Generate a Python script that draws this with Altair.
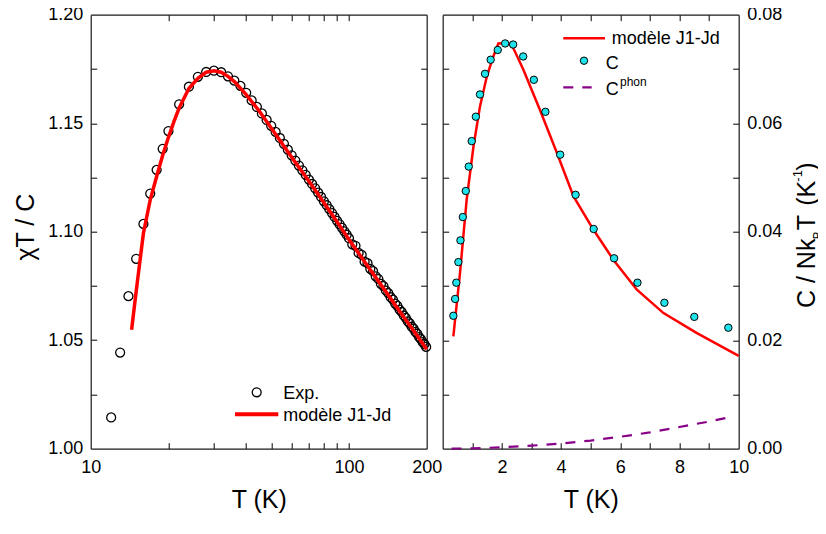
import altair as alt
import pandas as pd

# ---------------- data ----------------
# left panel: chi*T/C versus T (log axis)
exp_T = [12, 13, 14, 15, 16, 17, 18, 19, 20,
         22, 24, 26, 28, 30, 32, 34, 36, 38, 40, 42, 44, 46, 48, 50, 52, 54, 56, 58, 60,
         62, 64, 66, 68, 70, 72, 74, 76, 78, 80, 82, 84, 86, 88, 90, 92, 94, 96, 98, 100,
         103, 106, 109, 112, 115, 118, 121, 124, 127, 130, 133, 136, 139, 142, 145, 148,
         151, 154, 157, 160, 163, 166, 169, 172, 175, 178, 181, 184, 187, 190, 193, 196, 199]
exp_v = [1.0144, 1.0443, 1.0703, 1.0875, 1.1036, 1.1176, 1.1285, 1.1382, 1.1464,
         1.1587, 1.1668, 1.1714, 1.1736, 1.1742, 1.1735, 1.1716, 1.1696, 1.1672, 1.1640,
         1.1605, 1.1575, 1.1545, 1.1515, 1.1488, 1.1460, 1.1432, 1.1405, 1.1378, 1.1352,
         1.1328, 1.1305, 1.1283, 1.1262, 1.1240, 1.1220, 1.1200, 1.1180, 1.1160, 1.1140,
         1.1122, 1.1104, 1.1086, 1.1068, 1.1050, 1.1034, 1.1018, 1.1002, 1.0986, 1.0970,
         1.0942, 1.0935, 1.0902, 1.0893, 1.0862, 1.0855, 1.0829, 1.0818, 1.0794, 1.0782,
         1.0760, 1.0749, 1.0729, 1.0717, 1.0698, 1.0687, 1.0669, 1.0658, 1.0641, 1.0630,
         1.0614, 1.0603, 1.0587, 1.0578, 1.0562, 1.0553, 1.0538, 1.0529, 1.0514, 1.0505,
         1.0491, 1.0482, 1.0469]

mod_T = [14.4, 15, 16, 17, 18, 19, 20, 21, 22, 24, 26, 28, 30, 32, 34, 36, 40, 45, 50,
         60, 70, 80, 90, 100, 120, 140, 160, 180, 200]
mod_v = [1.0548, 1.0725, 1.0993, 1.1147, 1.1254, 1.1352, 1.1435, 1.1507, 1.1570, 1.1660,
         1.1707, 1.1735, 1.1742, 1.1735, 1.1716, 1.1692, 1.1632, 1.1555, 1.1478, 1.1343,
         1.1232, 1.1133, 1.1045, 1.0964, 1.0830, 1.0718, 1.0620, 1.0535, 1.0458]

# right panel: C / NkB T versus T
c_T = [0.36, 0.42, 0.46, 0.53, 0.60, 0.68, 0.78, 0.88, 0.98, 1.12, 1.26, 1.43, 1.62,
       1.86, 2.11, 2.38, 2.72, 3.08, 3.47, 3.97, 4.49, 5.10, 5.79, 6.58, 7.49, 8.50, 9.65]
c_v = [0.0245, 0.0276, 0.0306, 0.0344, 0.0384, 0.0427, 0.0475, 0.0520, 0.0567, 0.0612,
       0.0653, 0.0691, 0.0717, 0.0735, 0.0747, 0.0745, 0.0723, 0.0680, 0.0621, 0.0542,
       0.0468, 0.0405, 0.0351, 0.0306, 0.0269, 0.0243, 0.0223]

cm_T = [0.36, 0.585, 0.81, 1.04, 1.26, 1.49, 1.71, 1.88, 2.22, 2.39, 2.73, 3.29, 3.86,
        4.42, 5.10, 5.77, 6.56, 7.46, 8.59, 10.0]
cm_v = [0.0207, 0.0324, 0.0459, 0.0557, 0.0631, 0.0686, 0.0723, 0.0747, 0.0748, 0.0738,
        0.0698, 0.0624, 0.0545, 0.0465, 0.0403, 0.0348, 0.0293, 0.0250, 0.0213, 0.0171]

ph_T = [0.3, 1, 2, 3, 4, 5, 6, 7, 8, 9, 9.78]
ph_v = [0.00001, 0.00006, 0.00025, 0.00055, 0.00095, 0.0015, 0.0022, 0.0030, 0.0040,
        0.0050, 0.0059]

# axis values
left_x_labels = [10, 100, 200]
left_x_ticks = [20, 30, 40, 50, 60, 70, 80, 90, 100]
left_y_labels = [1.00, 1.05, 1.10, 1.15, 1.20]
left_y_ticks = [1.025, 1.05, 1.075, 1.10, 1.125, 1.15, 1.175]
right_x_labels = [2, 4, 6, 8, 10]
right_x_ticks = [1, 2, 3, 4, 5, 6, 7, 8, 9]
right_y_labels = [0.00, 0.02, 0.04, 0.06, 0.08]
right_y_ticks = [0.01, 0.02, 0.03, 0.04, 0.05, 0.06, 0.07]

# ---------------- geometry / styling ----------------
FONT = "Liberation Sans"
W1, GAP, W2, H = 336, 16, 296, 434
WT = W1 + GAP + W2              # whole view width (both panels)
R0 = W1 + GAP                   # left edge of right panel inside the view
RED = "#ff0000"
CYAN = "#20e2ea"
PURPLE = "#880088"
FRAME = "#1a1a1a"
TICK = 6

df_exp = pd.DataFrame({"T": exp_T, "v": exp_v})
df_mod = pd.DataFrame({"T": mod_T, "v": mod_v})
df_c = pd.DataFrame({"T": c_T, "v": c_v})
df_cm = pd.DataFrame({"T": cm_T, "v": cm_v})
df_ph = pd.DataFrame({"T": ph_T, "v": ph_v})
one = pd.DataFrame({"a": [1]})

xL = alt.Scale(type="log", domain=[10, 200], nice=False, range=[0, W1])
yL = alt.Scale(domain=[1.0, 1.2], nice=False, zero=False, range=[H, 0])
xR = alt.Scale(domain=[0, 10], nice=False, range=[R0, WT])
yR = alt.Scale(domain=[0, 0.08], nice=False, range=[H, 0])


def tick_axis(orient, offset, values):
    return alt.Axis(orient=orient, offset=offset, values=values, labels=False,
                    domain=True, domainColor=FRAME, domainWidth=1.2, grid=False,
                    ticks=True, tickSize=TICK, tickColor="black", tickWidth=1, title=None)


def txt(s, x, y, size=18, angle=0):
    return alt.Chart(one).mark_text(text=s, font=FONT, fontSize=size, align="left",
                                    baseline="alphabetic", color="black",
                                    angle=angle).encode(x=alt.value(x), y=alt.value(y))


# ---------------- left panel ----------------
circles = alt.Chart(df_exp).mark_point(shape="circle", filled=False, color="black",
                                       size=80, strokeWidth=1.3, opacity=1).encode(
    x=alt.X("T:Q", scale=xL, axis=alt.Axis(orient="bottom", values=left_x_labels,
                                           format="d", title="T (K)", ticks=False,
                                           tickSize=0, domain=False, grid=False,
                                           labelFlush=False, labelPadding=10,
                                           titlePadding=11)),
    y=alt.Y("v:Q", scale=yL, axis=alt.Axis(orient="left", values=left_y_labels,
                                           format=".2f", title="χT / C", ticks=False,
                                           tickSize=0, domain=False, grid=False,
                                           labelPadding=8, titlePadding=9, titleY=212)),
)
model_left = alt.Chart(df_mod).mark_line(color=RED, strokeWidth=3.5).encode(
    x=alt.X("T:Q", scale=xL, axis=None), y=alt.Y("v:Q", scale=yL, axis=None))
# inward ticks + frame: bottom & left edges
ticksL_a = alt.Chart(df_exp).mark_point(opacity=0).encode(
    x=alt.X("T:Q", scale=xL, axis=tick_axis("top", -H, left_x_ticks)),
    y=alt.Y("v:Q", scale=yL, axis=tick_axis("right", -WT, left_y_ticks)))
# inward ticks + frame: top & right edges
ticksL_b = alt.Chart(df_exp).mark_point(opacity=0).encode(
    x=alt.X("T:Q", scale=xL, axis=tick_axis("bottom", -H, left_x_ticks)),
    y=alt.Y("v:Q", scale=yL, axis=tick_axis("left", -W1, left_y_ticks)))

legL_circ = alt.Chart(one).mark_point(shape="circle", filled=False, color="black", size=80,
                                      strokeWidth=1.3, opacity=1).encode(
    x=alt.value(166), y=alt.value(377.6))
legL_line = alt.Chart(one).mark_rule(color=RED, strokeWidth=4).encode(
    x=alt.value(144.3), x2=alt.value(187.6), y=alt.value(399.6))

# ---------------- right panel ----------------
model_right = alt.Chart(df_cm).mark_line(color=RED, strokeWidth=2.5).encode(
    x=alt.X("T:Q", scale=xR, axis=alt.Axis(orient="bottom", values=right_x_labels,
                                           format="d", title="T (K)", ticks=False,
                                           tickSize=0, domain=False, grid=False,
                                           labelFlush=False, labelPadding=10,
                                           titlePadding=11)),
    y=alt.Y("v:Q", scale=yR, axis=alt.Axis(orient="right", values=right_y_labels,
                                           format=".2f", title=None, ticks=False,
                                           tickSize=0, domain=False, grid=False,
                                           labelFlush=False, labelPadding=8)),
)
phonon = alt.Chart(df_ph).mark_line(color=PURPLE, strokeWidth=2.2, strokeDash=[10, 9]).encode(
    x=alt.X("T:Q", scale=xR, axis=None), y=alt.Y("v:Q", scale=yR, axis=None))
c_pts = alt.Chart(df_c).mark_point(shape="circle", filled=True, fill=CYAN, stroke="black",
                                   strokeWidth=1, size=55, opacity=1).encode(
    x=alt.X("T:Q", scale=xR, axis=None), y=alt.Y("v:Q", scale=yR, axis=None))
ticksR_a = alt.Chart(df_c).mark_point(opacity=0).encode(
    x=alt.X("T:Q", scale=xR, axis=tick_axis("top", -H, right_x_ticks)),
    y=alt.Y("v:Q", scale=yR, axis=tick_axis("right", -W2, right_y_ticks)))
ticksR_b = alt.Chart(df_c).mark_point(opacity=0).encode(
    x=alt.X("T:Q", scale=xR, axis=tick_axis("bottom", -H, right_x_ticks)),
    y=alt.Y("v:Q", scale=yR, axis=tick_axis("left", -WT, right_y_ticks)))

legR_line = alt.Chart(one).mark_rule(color=RED, strokeWidth=2.5).encode(
    x=alt.value(R0 + 120.6), x2=alt.value(R0 + 162.3), y=alt.value(23.6))
legR_pt = alt.Chart(one).mark_point(shape="circle", filled=True, fill=CYAN, stroke="black",
                                    strokeWidth=1, size=55, opacity=1).encode(
    x=alt.value(R0 + 141.3), y=alt.value(46))
legR_dash = alt.Chart(one).mark_rule(color=PURPLE, strokeWidth=2.2, strokeDash=[10, 9]).encode(
    x=alt.value(R0 + 120.6), x2=alt.value(R0 + 149), y=alt.value(72.6))

# rotated right-hand title: C / Nk_B T (K^-1)
bx = R0 + 372.3
ytitle = [
    txt("C / Nk", bx, 293.3, 25, 270),
    txt("B", bx + 7, 224.5, 12, 270),
    txt("T", bx, 215.5, 25, 270),
    txt("(K", bx, 191, 25, 270),
    txt("-1", bx - 12.5, 167, 13, 270),
    txt(")", bx, 156, 25, 270),
]

chart = alt.layer(
    ticksL_a, ticksL_b, circles, model_left,
    legL_circ, txt("Exp.", 192.6, 384.3), legL_line, txt("modèle J1-Jd", 192.6, 406),
    ticksR_a, ticksR_b, model_right, phonon, c_pts,
    legR_line, txt("modèle J1-Jd", R0 + 169, 29.3), legR_pt, txt("C", R0 + 163, 54.6),
    legR_dash, txt("C", R0 + 163, 80.3), txt("phon", R0 + 177.3, 71, 12),
    *ytitle,
).resolve_scale(x="independent", y="independent").resolve_axis(
    x="independent", y="independent"
).properties(
    width=WT, height=H,
    autosize=alt.AutoSizeParams(type="none"),
    padding={"left": 82.7, "top": 6.7, "right": 79, "bottom": 72},
    background="white",
).configure_view(stroke=None).configure_axis(
    labelFont=FONT, labelFontSize=18, labelColor="black",
    titleFont=FONT, titleFontSize=25, titleFontWeight="normal", titleColor="black",
)

chart.save("out.html", embed_options={"renderer": "svg", "actions": False})
